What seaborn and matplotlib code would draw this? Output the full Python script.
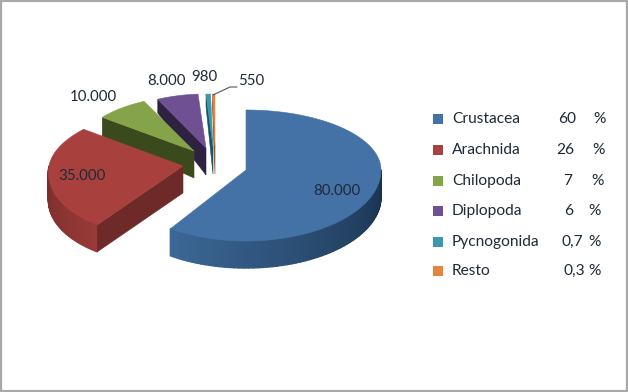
import numpy as np
import matplotlib
matplotlib.use('Agg')
import matplotlib.pyplot as plt
from matplotlib.colors import to_rgb
from matplotlib.patches import Rectangle
import seaborn as sns

# Data
groups = ['Crustacea', 'Arachnida', 'Chilopoda', 'Diplopoda', 'Pycnogonida', 'Resto']
species = [80000, 35000, 10000, 8000, 980, 550]
value_labels = ['80.000', '35.000', '10.000', '8.000', '980', '550']
percents = ['60', '26', '7', '6', '0,7', '0,3']

# Styles
top_colors = ['#4471a6', '#a8413e', '#85a348', '#6f5093', '#3a97ae', '#e5843a']
cut_colors = ['#1c3653', '#6e2a28', '#3b4a1c', '#2e2240', '#1b5260', '#8a4c1c']
wall_light = ['#3c6897', '#973a38', '#5a7030', '#4a3564', '#2a7080', '#b0652c']
wall_dark = ['#18304c', '#7a2c2a', '#3b4a1c', '#2e2240', '#1b5260', '#8a4c1c']

# Slice layout in pixels: apex x, apex y, x radius, upper y radius, lower y radius, shear
apex_x = [246, 183, 194, 206, 213, 215]
apex_y = [170, 166, 151, 148, 147, 147]
rad_x = [135, 134, 116, 112, 98, 98]
rad_up = [60, 60, 55, 54, 53, 53]
rad_down = [71, 71, 71, 71, 71, 71]
shear = [0, -0.18, 0, 0, 0, 0]

label_x = [337, 82, 93, 166, 204, 251]
label_y = [191, 176, 97, 81, 77, 81]
legend_y = [119, 150, 181, 211, 242, 271]
percent_x = [558, 556, 563, 564, 562, 563]
sign_x = [593, 592, 591, 588, 588, 588]

sns.set_theme(style='white')
plt.rcParams['font.family'] = ['Lato', 'DejaVu Sans']
text_color = '#1e2a36'

fig = plt.figure(figsize=(6.28, 3.92), dpi=100)
ax = fig.add_axes([0, 0, 1, 1])
ax.set_xlim(0, 628)
ax.set_ylim(392, 0)
ax.axis('off')

# grey frame of the screenshot
ax.add_patch(Rectangle((1, 1), 625.5, 389.5, fill=False, ec='#a8a8a8', lw=1.6))


def depth(y):
    # walls get shorter towards the back of the pie
    return np.clip(14 + (np.asarray(y, dtype=float) - 100) * 13 / 45, 12, 27)


def rim(i, t):
    c = np.cos(t)
    dy = np.where(c > 0, -rad_up[i] * c, -rad_down[i] * c)
    x = apex_x[i] + rad_x[i] * np.sin(t) + shear[i] * dy
    return x, apex_y[i] + dy


# Slice angles come from the values, clockwise from 12 o'clock
edges = np.concatenate([[0], np.cumsum(species)]) / sum(species) * 2 * np.pi

for i in [5, 4, 3, 2, 1, 0]:
    t0, t1 = edges[i], edges[i + 1]
    t = np.linspace(t0, t1, 120)
    x, y = rim(i, t)

    # outer wall, only the part that faces the viewer
    lo, hi = max(t0, np.pi / 2), min(t1, 3 * np.pi / 2)
    if hi > lo:
        steps = np.linspace(lo, hi, 61)
        for a, b in zip(steps[:-1], steps[1:]):
            xw, yw = rim(i, np.array([a, b]))
            if i == 0:
                mix = np.clip((a - np.pi / 2) / (t1 - np.pi / 2), 0, 1)
            else:
                mix = 1 - np.clip((a - t0) / (hi - t0), 0, 1)
            col = np.array(to_rgb(wall_dark[i])) * (1 - mix) + np.array(to_rgb(wall_light[i])) * mix
            # solid edge in the same colour closes the seams between the steps
            ax.fill([xw[0], xw[1], xw[1], xw[0]],
                    [yw[0], yw[1], yw[1] + depth(yw[1]), yw[0] + depth(yw[0])],
                    fc=col, ec=col, lw=1.0, joinstyle='round')

    # cut face on the clockwise side of the slice, not visible on the big one
    if i > 0:
        xc, yc = rim(i, np.array(t0))
        ax.fill([apex_x[i], xc, xc, apex_x[i]],
                [apex_y[i], yc, yc + depth(yc), apex_y[i] + depth(apex_y[i])],
                color=cut_colors[i], lw=0.4)

    ax.fill(np.r_[apex_x[i], x], np.r_[apex_y[i], y], color=top_colors[i], lw=0.4)

for i in range(len(groups)):
    ax.text(label_x[i], label_y[i], value_labels[i], ha='center', va='center',
            fontsize=10.8, color=text_color)

    # legend rows
    ax.scatter([438], [legend_y[i]], marker='s', s=42, color=top_colors[i], linewidths=0)
    ax.text(452, legend_y[i], groups[i], ha='left', va='center', fontsize=11.2, color=text_color)
    ax.text(percent_x[i], legend_y[i], percents[i], ha='left', va='center', fontsize=11.2, color=text_color)
    ax.text(sign_x[i], legend_y[i], '%', ha='left', va='center', fontsize=11.2, color=text_color)

# leader line for the smallest slice
ax.plot([213, 230, 237], [95, 87, 87], color='#555555', lw=0.8)

fig.savefig('out.png', dpi=100)
